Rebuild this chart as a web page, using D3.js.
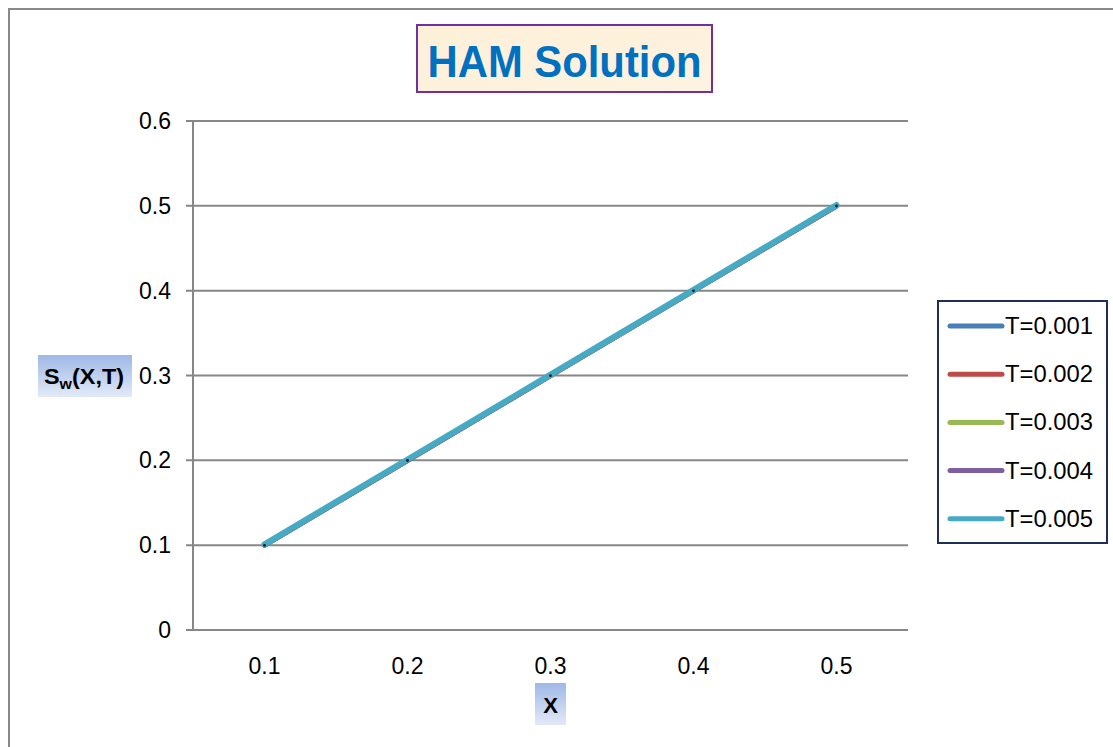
<!DOCTYPE html>
<html><head><meta charset="utf-8">
<script src="https://cdn.jsdelivr.net/npm/d3@7/dist/d3.min.js"></script>
<style>body{margin:0;background:#fff;} svg{display:block;}</style>
</head><body>
<svg id="c" width="1113" height="747"></svg>
<script>
const categories = ["0.1","0.2","0.3","0.4","0.5"];
const seriesNames = ["T=0.001","T=0.002","T=0.003","T=0.004","T=0.005"];
const s1 = [0.0990,0.1990,0.2990,0.3990,0.4990];
const s2 = [0.0992,0.1992,0.2992,0.3992,0.4992];
const s3 = [0.0994,0.1994,0.2994,0.3994,0.4994];
const s4 = [0.0996,0.1996,0.2996,0.3996,0.4996];
const s5 = [0.1010,0.2010,0.3010,0.4010,0.5010];
const seriesValues = [s1,s2,s3,s4,s5];
const yTicks = [0,0.1,0.2,0.3,0.4,0.5,0.6];
const colors = ["#4a7ebb","#be4b48","#98b954","#7d60a0","#46aac5"];

const svg = d3.select("#c");
const font = "'Liberation Sans', Arial, sans-serif";

// outer chart border
svg.append("path").attr("d","M9,747 L9,9 L1113,9").attr("fill","none").attr("stroke","#898989").attr("stroke-width",2);

const L=193, R=908, T=121, B=630;
const x = d3.scaleBand().domain(categories).range([L,R]);
const y = d3.scaleLinear().domain([0,0.6]).range([B,T]);

// gridlines
svg.append("g").selectAll("line").data(yTicks).join("line")
  .attr("x1",L-7).attr("x2",R).attr("y1",d=>y(d)).attr("y2",d=>y(d))
  .attr("stroke","#878787").attr("stroke-width",2);
// y axis line
svg.append("line").attr("x1",L).attr("x2",L).attr("y1",T).attr("y2",B).attr("stroke","#878787").attr("stroke-width",2);

// y axis labels
svg.append("g").selectAll("text").data(yTicks).join("text")
  .attr("x",171).attr("y",d=>y(d)+8).attr("text-anchor","end")
  .attr("font-family",font).attr("font-size",23).attr("fill","#000")
  .text(d=>d3.format("")(d));
// x axis labels
svg.append("g").selectAll("text").data(categories).join("text")
  .attr("x",d=>x(d)+x.bandwidth()/2).attr("y",674).attr("text-anchor","middle")
  .attr("font-family",font).attr("font-size",23).attr("fill","#000")
  .text(d=>d);

// lines
const line = d3.line().x((d,i)=>x(categories[i])+x.bandwidth()/2).y(d=>y(d));
const widths=[4,4,4,4,6];
seriesValues.forEach((vals,k)=>{
  svg.append("path").datum(vals).attr("d",line).attr("fill","none")
    .attr("stroke",colors[k]).attr("stroke-width",widths[k]).attr("stroke-linecap","round").attr("stroke-linejoin","round");
});
// small point markers
svg.append("g").selectAll("circle").data(s5).join("circle")
  .attr("cx",(d,i)=>x(categories[i])+x.bandwidth()/2).attr("cy",d=>y(d)+1).attr("r",1.4).attr("fill","#1a1a2a");

// defs
const defs = svg.append("defs");
const g1 = defs.append("linearGradient").attr("id","tg").attr("x1",0).attr("y1",0).attr("x2",1).attr("y2",1);
g1.append("stop").attr("offset","0").attr("stop-color","#fdf0d8");
g1.append("stop").attr("offset","1").attr("stop-color","#fdf3e2");
const g2 = defs.append("linearGradient").attr("id","bg").attr("x1",0).attr("y1",0).attr("x2",0).attr("y2",1);
g2.append("stop").attr("offset","0").attr("stop-color","#9fb8e6");
g2.append("stop").attr("offset","1").attr("stop-color","#e2eaf7");

// title
svg.append("rect").attr("x",417).attr("y",25).attr("width",295).attr("height",67)
  .attr("fill","url(#tg)").attr("stroke","#7030a0").attr("stroke-width",2);
svg.append("text").attr("x",564.5).attr("y",77).attr("text-anchor","middle")
  .attr("font-family",font).attr("font-weight","bold").attr("font-size",45).attr("fill","#0070c0")
  .attr("textLength",274).attr("lengthAdjust","spacingAndGlyphs")
  .text("HAM Solution");

// y axis title
svg.append("rect").attr("x",38).attr("y",355).attr("width",94).attr("height",42).attr("fill","url(#bg)");
const yt = svg.append("text").attr("x",44).attr("y",384).attr("font-family",font).attr("font-weight","bold").attr("font-size",22).attr("fill","#000")
  .attr("textLength",80).attr("lengthAdjust","spacingAndGlyphs");
yt.append("tspan").text("S");
yt.append("tspan").attr("font-size",15).attr("dy",5).text("w");
yt.append("tspan").attr("dy",-5).text("(X,T)");

// x axis title
svg.append("rect").attr("x",535).attr("y",683).attr("width",31).attr("height",42).attr("fill","url(#bg)");
svg.append("text").attr("x",550.5).attr("y",713).attr("text-anchor","middle").attr("font-family",font).attr("font-weight","bold").attr("font-size",22).attr("fill","#000").text("X");

// legend
svg.append("rect").attr("x",938).attr("y",301).attr("width",169).attr("height",242).attr("fill","#fff").attr("stroke","#1f2d5c").attr("stroke-width",2);
const lg = svg.append("g").selectAll("g").data(seriesNames).join("g")
  .attr("transform",(d,i)=>`translate(0,${326+i*48.2})`);
lg.append("line").attr("x1",950).attr("x2",1002).attr("y1",0).attr("y2",0)
  .attr("stroke",(d,i)=>colors[i]).attr("stroke-width",5).attr("stroke-linecap","round");
lg.append("text").attr("x",1005).attr("y",8).attr("font-family",font).attr("font-size",23).attr("fill","#000")
  .attr("textLength",88).attr("lengthAdjust","spacingAndGlyphs").text(d=>d);
</script>
</body></html>
